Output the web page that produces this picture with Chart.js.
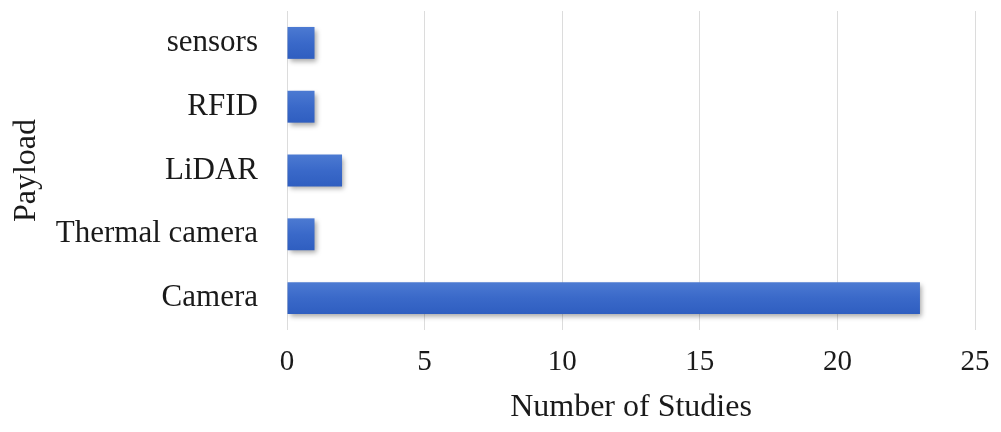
<!DOCTYPE html>
<html>
<head>
<meta charset="utf-8">
<script src="https://cdn.jsdelivr.net/npm/chart.js@4/dist/chart.umd.min.js"></script>
<style>
  html, body { margin: 0; padding: 0; background: #ffffff; }
  #wrap { width: 1001px; height: 432px; position: relative; }
</style>
</head>
<body>
<div id="wrap"><canvas id="c"></canvas></div>
<script>
// Payload types, listed top to bottom
const payloads = ['sensors', 'RFID', 'LiDAR', 'Thermal camera', 'Camera'];
// Number of studies using each payload
const studies = [1, 1, 2, 1, 23];
// Axis settings
const xTicks = [0, 5, 10, 15, 20, 25];
const xTitle = 'Number of Studies';
const yTitle = 'Payload';

const serif = 'Liberation Serif, Times New Roman, serif';

// Soft drop shadow under the bars
const barShadow = {
  id: 'barShadow',
  beforeDatasetsDraw(chart) {
    const ctx = chart.ctx;
    ctx.save();
    ctx.shadowColor = 'rgba(0,0,0,0.35)';
    ctx.shadowBlur = 5;
    ctx.shadowOffsetX = 2;
    ctx.shadowOffsetY = 3;
  },
  afterDatasetsDraw(chart) {
    chart.ctx.restore();
  }
};

// Vertical shading across each bar
function barFill(context) {
  const chart = context.chart;
  const y = chart.scales && chart.scales.y;
  if (!y || context.dataIndex === undefined) return '#3a69c8';
  const cy = y.getPixelForValue(context.dataIndex);
  if (!isFinite(cy)) return '#3a69c8';
  const half = 16;
  const g = chart.ctx.createLinearGradient(0, cy - half, 0, cy + half);
  g.addColorStop(0, '#4c7ad2');
  g.addColorStop(0.5, '#3a69c9');
  g.addColorStop(1, '#2f5ec0');
  return g;
}

new Chart(document.getElementById('c'), {
  type: 'bar',
  data: {
    labels: payloads,
    datasets: [{
      data: studies,
      backgroundColor: barFill,
      borderWidth: 0,
      categoryPercentage: 1.0,
      barPercentage: 0.5
    }]
  },
  options: {
    indexAxis: 'y',
    responsive: true,
    maintainAspectRatio: false,
    animation: false,
    layout: { padding: { top: 11, right: 26, bottom: 0, left: 0 } },
    plugins: {
      legend: { display: false },
      tooltip: { enabled: false }
    },
    scales: {
      x: {
        min: 0,
        max: 25,
        afterBuildTicks(scale) {
          scale.ticks = xTicks.map(v => ({ value: v }));
        },
        afterFit(scale) {
          scale.height = 102;
          scale.paddingLeft = 0;
          scale.paddingRight = 0;
        },
        grid: { color: '#dcdcdc', lineWidth: 1, drawTicks: false },
        border: { display: false },
        ticks: {
          padding: 15,
          color: '#1a1a1a',
          font: { family: serif, size: 29 }
        },
        title: {
          display: true,
          text: xTitle,
          color: '#1a1a1a',
          font: { family: serif, size: 32 },
          padding: { top: 2, bottom: 5 }
        }
      },
      y: {
        afterFit(scale) {
          scale.width = 287;
          scale.paddingTop = 0;
          scale.paddingBottom = 0;
        },
        grid: { display: false, drawTicks: false },
        border: { display: false },
        ticks: {
          padding: 29,
          color: '#1a1a1a',
          font: { family: serif, size: 31 }
        },
        title: {
          display: true,
          text: yTitle,
          color: '#1a1a1a',
          font: { family: serif, size: 32 },
          padding: { top: 7, bottom: 0 }
        }
      }
    }
  },
  plugins: [barShadow]
});
</script>
</body>
</html>
